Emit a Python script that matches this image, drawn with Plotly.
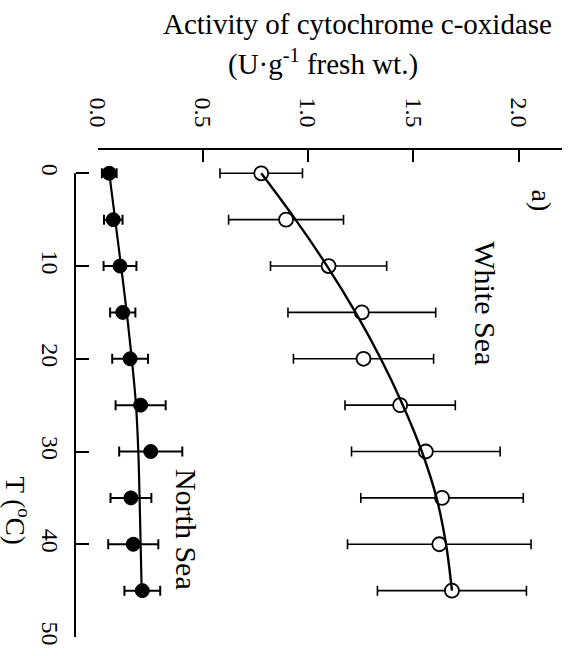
import plotly.graph_objects as go

# Data (rotated chart: temperature runs downward, activity runs rightward)
temp = [0, 5, 10, 15, 20, 25, 30, 35, 40, 45]

north_sea = [0.055, 0.074, 0.106, 0.119, 0.154, 0.204, 0.252, 0.158, 0.169, 0.212]
north_sea_err = [0.035, 0.044, 0.078, 0.060, 0.085, 0.119, 0.150, 0.097, 0.119, 0.085]
north_sea_fit = [0.055, 0.083, 0.111, 0.138, 0.162, 0.182, 0.193, 0.199, 0.204, 0.209]

white_sea = [0.777, 0.895, 1.097, 1.255, 1.263, 1.437, 1.559, 1.636, 1.623, 1.683]
white_sea_err = [0.196, 0.273, 0.276, 0.351, 0.333, 0.262, 0.353, 0.386, 0.436, 0.354]
white_sea_fit = [0.777, 0.940, 1.090, 1.225, 1.345, 1.450, 1.540, 1.610, 1.655, 1.683]

x_ticks = [0.0, 0.5, 1.0, 1.5, 2.0]
x_tick_text = ["0.0", "0.5", "1.0", "1.5", "2.0"]
y_ticks = [0, 10, 20, 30, 40, 50]
t_min, t_max = 0, 50

FONT = "Liberation Serif"

fig = go.Figure()

# White Sea: open circles with error bars
fig.add_trace(go.Scatter(
    x=white_sea, y=temp, mode="markers",
    marker=dict(symbol="circle", size=14, color="white",
                line=dict(color="black", width=1.8)),
    error_x=dict(type="data", array=white_sea_err, visible=True,
                 color="black", thickness=1.6, width=5),
    cliponaxis=False, showlegend=False))
fig.add_trace(go.Scatter(
    x=white_sea_fit, y=temp, mode="lines",
    line=dict(color="black", width=2.4, shape="spline"),
    cliponaxis=False, showlegend=False))

# North Sea: filled circles with error bars
fig.add_trace(go.Scatter(
    x=north_sea, y=temp, mode="markers",
    marker=dict(symbol="circle", size=14, color="black",
                line=dict(color="black", width=1)),
    error_x=dict(type="data", array=north_sea_err, visible=True,
                 color="black", thickness=2, width=5),
    cliponaxis=False, showlegend=False))
fig.add_trace(go.Scatter(
    x=north_sea_fit, y=temp, mode="lines",
    line=dict(color="black", width=2.2, shape="spline"),
    cliponaxis=False, showlegend=False))

fig.update_layout(
    width=571, height=656,
    margin=dict(l=75, r=9, t=149, b=19),
    paper_bgcolor="white", plot_bgcolor="white",
    font=dict(family=FONT, color="black"),
    xaxis=dict(
        domain=[0.0466, 1], anchor="free", position=1, side="top",
        range=[0, 2.206], tickvals=x_ticks, ticktext=x_tick_text,
        tickangle=90, ticks="inside", ticklen=12, tickwidth=2,
        tickcolor="black", showline=True, linewidth=2, linecolor="black",
        showgrid=False, zeroline=False, ticklabelstandoff=12,
        tickfont=dict(family=FONT, size=24, color="black")),
    yaxis=dict(
        domain=[0, 0.9787], anchor="free", position=0,
        range=[50, -1.5], tickvals=y_ticks,
        tickangle=90, ticks="inside", ticklen=13, tickwidth=2,
        tickcolor="black", showline=False,
        showgrid=False, zeroline=False, ticklabelstandoff=9,
        tickfont=dict(family=FONT, size=24, color="black")),
)

# temperature axis line spanning exactly 0..50
fig.add_shape(type="line", xref="paper", yref="y",
              x0=0, x1=0, y0=t_min, y1=t_max,
              line=dict(color="black", width=2))

annotations = [
    dict(text="Activity of cytochrome c-oxidase", xref="paper", yref="paper",
         x=0.580, y=1.2185, xanchor="center", yanchor="bottom",
         showarrow=False, font=dict(family=FONT, size=29)),
    dict(text="(U·g<sup>-1</sup> fresh wt.)", xref="paper", yref="paper",
         x=0.509, y=1.2185, xanchor="center", yanchor="top",
         showarrow=False, font=dict(family=FONT, size=29)),
    dict(text="T (<sup>o</sup>C)", xref="paper", yref="paper",
         x=-0.118, y=0.260, xanchor="center", yanchor="middle", textangle=90,
         showarrow=False, font=dict(family=FONT, size=27)),
    dict(text="White Sea", xref="x", yref="y", x=1.842, y=14.05,
         xanchor="center", yanchor="middle", textangle=90,
         showarrow=False, font=dict(family=FONT, size=30)),
    dict(text="North Sea", xref="x", yref="y", x=0.422, y=38.4,
         xanchor="center", yanchor="middle", textangle=90,
         showarrow=False, font=dict(family=FONT, size=30)),
    dict(text="a)", xref="x", yref="y", x=2.113, y=2.99,
         xanchor="center", yanchor="middle", textangle=90,
         showarrow=False, font=dict(family=FONT, size=28)),
]
fig.update_layout(annotations=annotations)

fig.write_html("out.html")
